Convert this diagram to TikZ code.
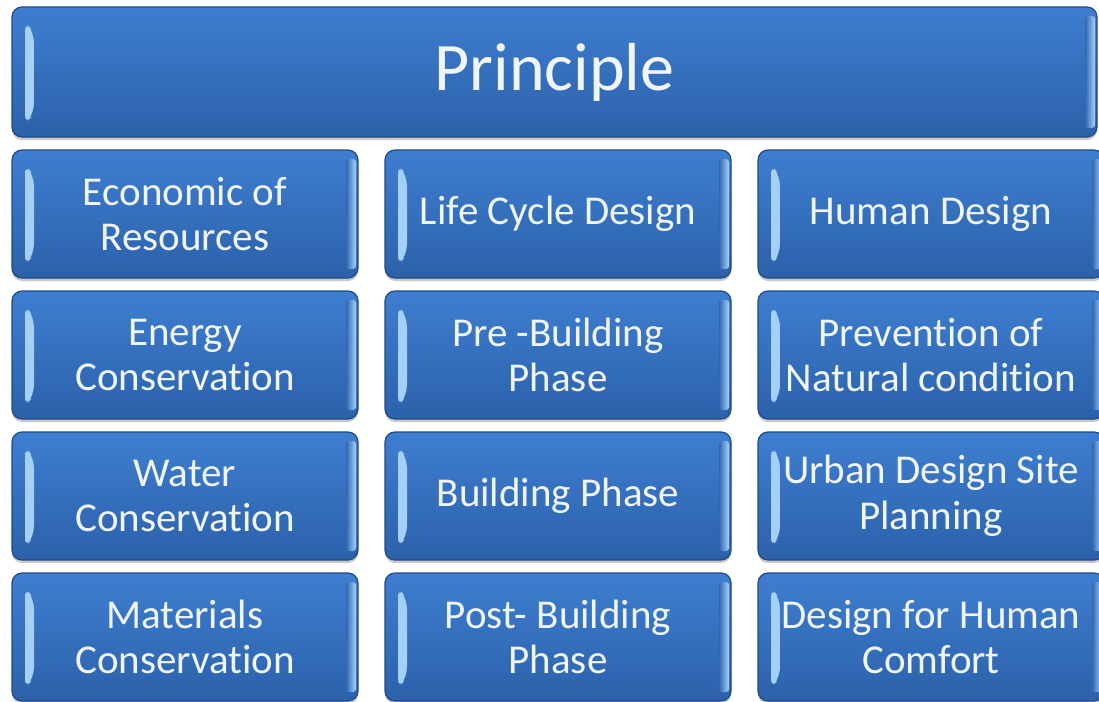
\documentclass[tikz,border=0pt]{standalone}
\usepackage{fontspec}
\setmainfont[Ligatures=NoCommon]{Carlito}
\usetikzlibrary{shadows,calc}
\definecolor{btop}{HTML}{3E7ED0}
\definecolor{bbot}{HTML}{2C61AA}
\definecolor{bdr}{HTML}{1F4A85}
\definecolor{hlA}{HTML}{A8D2F8}
\definecolor{hlB}{HTML}{5C98DC}
\definecolor{txt}{HTML}{F0F5FB}
\tikzset{
  bx/.style={rounded corners=10pt, draw=bdr, line width=1.2pt,
    top color=btop, bottom color=bbot, text=txt, align=center,
    inner sep=0pt, font=\fontsize{41}{45.5}\selectfont,
    drop shadow={shadow xshift=0pt, shadow yshift=-3pt, opacity=0.3, fill=black!70},
    path picture={
      \shade[left color=hlA, right color=hlB]
        ($(path picture bounding box.north west)+(13pt,-14pt)$) --
        ($(path picture bounding box.north west)+(22pt,-26pt)$) --
        ($(path picture bounding box.south west)+(22pt,24pt)$) --
        ($(path picture bounding box.south west)+(13pt,12pt)$) -- cycle;
      \shade[left color=bbot!80!btop, right color=hlA, rounded corners=3pt]
        ($(path picture bounding box.north east)+(-12pt,-9pt)$) rectangle
        ($(path picture bounding box.south east)+(-2pt,9pt)$);
    }},
  bw/.style={bx, minimum width=346pt, minimum height=128pt},
}
\begin{document}
\begin{tikzpicture}[x=1pt,y=-1pt]
\useasboundingbox (0,0) rectangle (1099,701);
\clip (0,0) rectangle (1099,701);
\fill[white] (0,0) rectangle (1099,701);
\node[bx, minimum width=1085pt, minimum height=130pt, font=\fontsize{68}{70}\selectfont] (p) at (554.5,72) {Principle};
% column 1
\node[bw] (a1) at (185,214) {Economic of\\Resources};
\node[bw] (a2) at (185,355) {Energy\\Conservation};
\node[bw] (a3) at (185,496) {Water\\Conservation};
\node[bw] (a4) at (185,637) {Materials\\Conservation};
% column 2
\node[bw] (b1) at (558,214) {Life Cycle Design};
\node[bw] (b2) at (558,355) {Pre -Building\\Phase};
\node[bw] (b3) at (558,496) {Building Phase};
\node[bw] (b4) at (558,637) {Post- Building\\Phase};
% column 3
\node[bw] (c1) at (931,214) {Human Design};
\node[bw] (c2) at (931,355) {Prevention of\\Natural condition};
\node[bw] (c3) at (931,496) {Urban Design Site\\Planning};
\node[bw] (c4) at (931,637) {Design for Human\\Comfort};
\end{tikzpicture}
\end{document}
